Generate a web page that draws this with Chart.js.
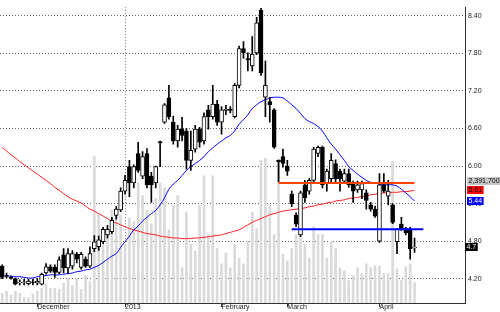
<!DOCTYPE html>
<html>
<head>
<meta charset="utf-8">
<title>Stock chart</title>
<script src="https://cdn.jsdelivr.net/npm/chart.js@4.4.1/dist/chart.umd.min.js"></script>
<style>
  html, body { margin: 0; padding: 0; background: #fff; }
  #wrap { width: 500px; height: 312px; }
</style>
</head>
<body>
<div id="wrap"><canvas id="stockChart" width="500" height="312"></canvas></div>
<script>
// Datos (una vela por sesión)
const tickIdx = [8, 28, 50, 65, 86];
const tickText = ['December', '2013', 'February', 'March', 'April'];
const priceTicks = [4.2, 4.8, 5.4, 6.0, 6.6, 7.2, 7.8, 8.4];

const open = [4.40, 4.25, 4.22, 4.20, 4.13, 4.14, 4.12, 4.15, 4.13, 4.11,
  4.29, 4.39, 4.38, 4.30, 4.58, 4.37, 4.40, 4.59, 4.38, 4.51,
  4.40, 4.68, 4.71, 4.79, 4.90, 4.95, 5.21, 5.30, 5.60, 5.99,
  5.73, 6.20, 5.84, 6.20, 5.84, 5.73, 6.39, 6.70, 7.09, 6.70,
  6.40, 6.59, 6.56, 6.09, 6.27, 6.59, 6.40, 6.90, 6.79, 6.99,
  6.70, 6.89, 6.91, 6.79, 7.29, 7.88, 7.72, 7.60, 7.81, 8.49,
  7.10, 7.03, 6.90, 6.09, 6.15, 6.00, 5.55, 5.21, 4.90, 5.70,
  5.60, 5.77, 6.20, 6.30, 5.73, 5.80, 6.04, 5.92, 5.76, 5.88,
  5.73, 5.62, 5.62, 5.57, 5.38, 5.31, 4.80, 5.70, 5.52, 5.38,
  4.79, 5.07, 5.00, 4.99, 4.69];
const high = [4.42, 4.29, 4.24, 4.21, 4.18, 4.19, 4.19, 4.19, 4.20, 4.29,
  4.44, 4.42, 4.42, 4.55, 4.68, 4.68, 4.65, 4.62, 4.62, 4.55,
  4.71, 4.89, 4.88, 5.02, 5.05, 5.18, 5.35, 5.65, 5.85, 6.09,
  6.02, 6.38, 6.23, 6.28, 5.90, 6.00, 6.40, 7.00, 7.29, 6.80,
  6.65, 6.78, 6.60, 6.56, 6.65, 6.62, 6.85, 6.97, 7.29, 7.05,
  6.95, 6.97, 6.95, 7.32, 7.92, 7.99, 7.81, 8.07, 8.38, 8.52,
  7.68, 7.10, 6.92, 6.10, 6.27, 6.09, 5.60, 5.25, 5.60, 5.77,
  5.80, 6.30, 6.32, 6.32, 5.95, 6.20, 6.10, 5.95, 5.95, 5.95,
  5.76, 5.76, 5.76, 5.62, 5.42, 5.36, 5.88, 5.88, 5.77, 5.40,
  5.00, 5.18, 5.02, 5.02, 4.85];
const low = [4.20, 4.21, 4.19, 4.10, 4.10, 4.10, 4.10, 4.10, 4.10, 4.10,
  4.27, 4.30, 4.22, 4.28, 4.29, 4.28, 4.35, 4.45, 4.35, 4.38,
  4.38, 4.63, 4.65, 4.76, 4.85, 4.92, 5.15, 5.27, 5.55, 5.51,
  5.65, 5.90, 5.80, 5.65, 5.42, 5.65, 5.99, 6.68, 6.75, 6.35,
  6.30, 6.40, 5.95, 5.93, 6.22, 6.30, 6.35, 6.59, 6.75, 6.65,
  6.51, 6.82, 6.85, 6.77, 7.25, 7.72, 7.52, 7.52, 7.78, 7.45,
  6.79, 6.70, 6.28, 5.75, 5.98, 5.85, 5.35, 5.03, 4.87, 5.42,
  5.55, 5.72, 6.15, 5.65, 5.60, 5.75, 5.75, 5.60, 5.73, 5.66,
  5.42, 5.58, 5.48, 5.31, 5.28, 5.18, 4.78, 5.58, 5.38, 5.08,
  4.60, 4.97, 4.90, 4.51, 4.62];
const close = [4.22, 4.24, 4.21, 4.11, 4.14, 4.15, 4.16, 4.14, 4.16, 4.27,
  4.39, 4.32, 4.30, 4.50, 4.37, 4.60, 4.60, 4.51, 4.59, 4.40,
  4.60, 4.79, 4.82, 4.99, 4.99, 5.13, 5.31, 5.60, 5.77, 5.73,
  5.99, 5.93, 6.15, 5.70, 5.70, 5.99, 6.37, 6.98, 6.79, 6.40,
  6.59, 6.49, 6.09, 6.25, 6.59, 6.38, 6.79, 6.79, 6.99, 6.70,
  6.90, 6.91, 6.89, 7.29, 7.88, 7.81, 7.70, 7.79, 8.29, 7.49,
  7.29, 6.98, 6.30, 6.07, 6.04, 5.92, 5.40, 5.07, 5.57, 5.49,
  5.77, 6.27, 6.30, 5.70, 5.92, 6.09, 5.80, 5.80, 5.88, 5.70,
  5.60, 5.70, 5.72, 5.45, 5.31, 5.20, 5.70, 5.60, 5.60, 5.10,
  4.99, 4.99, 4.93, 4.68, 4.70];
const volume = [1140000, 1368000, 912000, 1368000, 1140000, 684000, 570000, 1026000, 1368000, 1710000,
  2280000, 1710000, 1710000, 1596000, 2280000, 2850000, 2052000, 2850000, 1596000, 3192000,
  2508000, 17100000, 10260000, 6840000, 7980000, 10830000, 10260000, 10260000, 6840000, 9918000,
  9462000, 14022000, 12540000, 10830000, 9234000, 12198000, 14022000, 13452000, 8550000, 11400000,
  12540000, 4104000, 10602000, 6840000, 6042000, 11400000, 14820000, 7980000, 14820000, 6384000,
  4560000, 5814000, 4104000, 6840000, 5244000, 4560000, 7182000, 10602000, 8664000, 16644000,
  16872000, 11400000, 7980000, 16644000, 5700000, 4902000, 6384000, 7980000, 7638000, 6840000,
  5244000, 8892000, 7980000, 7980000, 5244000, 7182000, 6384000, 4104000, 3762000, 2622000,
  3192000, 4104000, 3420000, 4560000, 4104000, 4332000, 4332000, 3420000, 3420000, 16530000,
  3990000, 2622000, 4218000, 4560000, 2391700];
const maBlue = [4.24, 4.24, 4.24, 4.23, 4.23, 4.22, 4.21, 4.21, 4.23, 4.24,
  4.25, 4.26, 4.26, 4.26, 4.27, 4.28, 4.29, 4.31, 4.32, 4.34,
  4.35, 4.38, 4.41, 4.46, 4.51, 4.56, 4.60, 4.70, 4.79, 4.88,
  4.98, 5.04, 5.12, 5.18, 5.24, 5.29, 5.38, 5.49, 5.63, 5.71,
  5.77, 5.85, 5.93, 5.99, 6.04, 6.09, 6.15, 6.23, 6.29, 6.35,
  6.40, 6.45, 6.49, 6.56, 6.67, 6.74, 6.82, 6.92, 6.98, 7.03,
  7.06, 7.09, 7.10, 7.10, 7.09, 7.04, 6.98, 6.92, 6.84, 6.76,
  6.71, 6.68, 6.63, 6.56, 6.45, 6.35, 6.27, 6.18, 6.09, 5.99,
  5.93, 5.87, 5.82, 5.77, 5.74, 5.73, 5.71, 5.70, 5.70, 5.70,
  5.68, 5.63, 5.57, 5.51, 5.44];
const maRed = [6.30, 6.24, 6.18, 6.13, 6.07, 6.02, 5.97, 5.92, 5.87, 5.82,
  5.77, 5.72, 5.66, 5.61, 5.56, 5.51, 5.47, 5.44, 5.41, 5.36,
  5.31, 5.28, 5.24, 5.20, 5.16, 5.12, 5.09, 5.06, 5.03, 5.00,
  4.98, 4.96, 4.94, 4.92, 4.91, 4.90, 4.88, 4.87, 4.86, 4.85,
  4.85, 4.84, 4.84, 4.84, 4.85, 4.85, 4.86, 4.87, 4.88, 4.89,
  4.90, 4.92, 4.94, 4.96, 4.98, 5.02, 5.06, 5.10, 5.13, 5.16,
  5.19, 5.22, 5.24, 5.26, 5.28, 5.29, 5.30, 5.31, 5.32, 5.33,
  5.35, 5.36, 5.38, 5.39, 5.41, 5.42, 5.44, 5.45, 5.46, 5.48,
  5.49, 5.50, 5.51, 5.52, 5.54, 5.55, 5.56, 5.57, 5.57, 5.58,
  5.58, 5.59, 5.59, 5.60, 5.61];
// niveles horizontales: [desde, hasta, valor]
const orangeLevel = [63, 94, 5.73];
const blueLevel = [66, 96, 4.99];

const SLOTS = 106; // sesiones + hueco a la derecha

const labels = Array.from({ length: SLOTS }, (_, i) => {
  const k = tickIdx.indexOf(i);
  return k >= 0 ? tickText[k] : '';
});

function levelData(level) {
  const arr = new Array(SLOTS).fill(null);
  for (let i = level[0]; i <= level[1]; i++) arr[i] = level[2];
  return arr;
}

Chart.defaults.font.family = '"Liberation Sans", Arial, sans-serif';
Chart.defaults.font.size = 7;

const lastValueBoxes = {
  id: 'lastValueBoxes',
  afterDraw(chart) {
    const { ctx, chartArea, scales: { y } } = chart;
    const n = close.length - 1;
    ctx.save();
    ctx.font = '7px "Liberation Sans", Arial, sans-serif';
    ctx.textBaseline = 'middle';
    const box = (text, yc, bg, fg, x0) => {
      const w = ctx.measureText(text).width + 3;
      ctx.fillStyle = bg;
      ctx.fillRect(x0, Math.round(yc) - 4, w, 8);
      ctx.fillStyle = fg;
      ctx.fillText(text, x0 + 1.5, Math.round(yc) + 0.5);
    };
    const yRed = y.getPixelForValue(maRed[n]);
    box(volume[n].toLocaleString('en-US'), yRed - 9, '#c8c8c8', '#000', chartArea.right + 2);
    box(maRed[n].toFixed(2), yRed, '#ff0000', '#000', chartArea.right + 2);
    box(maBlue[n].toFixed(2), y.getPixelForValue(maBlue[n]), '#0000ff', '#fff', chartArea.right + 2);
    box(String(close[n]), y.getPixelForValue(close[n]), '#000', '#fff', chartArea.right);
    ctx.restore();
  }
};

const ctx = document.getElementById('stockChart');
new Chart(ctx, {
  type: 'bar',
  data: {
    labels: labels,
    datasets: [
      {
        label: 'Volume',
        data: volume,
        yAxisID: 'yVol',
        backgroundColor: '#dadada',
        barThickness: 2,
        grouped: false,
        order: 10
      },
      {
        type: 'line',
        label: 'MA red',
        data: maRed,
        borderColor: '#ff1a1a',
        borderWidth: 1,
        pointRadius: 0,
        tension: 0.3,
        order: 8
      },
      {
        type: 'line',
        label: 'MA blue',
        data: maBlue,
        borderColor: '#0000ff',
        borderWidth: 1,
        pointRadius: 0,
        tension: 0.3,
        order: 7
      },
      {
        label: 'Range',
        data: low.map((l, i) => [l, high[i]]),
        backgroundColor: '#000',
        barThickness: 1,
        grouped: false,
        order: 5
      },
      {
        label: 'Body',
        data: open.map((o, i) => [o, close[i]]),
        backgroundColor: open.map((o, i) => close[i] >= o ? '#fff' : '#000'),
        borderColor: '#000',
        borderWidth: 1,
        borderSkipped: false,
        barThickness: 4,
        grouped: false,
        order: 4
      },
      {
        type: 'line',
        label: 'Level orange',
        data: levelData(orangeLevel),
        borderColor: '#ff4400',
        borderWidth: 2,
        pointRadius: 0,
        order: 2
      },
      {
        type: 'line',
        label: 'Level blue',
        data: levelData(blueLevel),
        borderColor: '#0000ff',
        borderWidth: 2,
        pointRadius: 0,
        order: 2
      }
    ]
  },
  options: {
    responsive: false,
    animation: false,
    devicePixelRatio: 1,
    layout: { padding: 0 },
    plugins: {
      legend: { display: false },
      tooltip: { enabled: false }
    },
    scales: {
      x: {
        offset: true,
        grid: {
          offset: false,
          drawTicks: true,
          tickLength: 4,
          color: c => c.index === tickIdx[1] ? '#777' : 'rgba(0,0,0,0)',
          tickColor: c => tickIdx.includes(c.index) ? '#333' : 'rgba(0,0,0,0)'
        },
        border: { display: true, color: '#333', dash: [1, 2] },
        ticks: {
          autoSkip: false,
          maxRotation: 0,
          align: 'start',
          padding: -4,
          color: '#222'
        },
        afterFit: s => { s.height = 9; }
      },
      y: {
        position: 'right',
        min: 3.81,
        max: 8.54,
        afterBuildTicks: s => { s.ticks = priceTicks.map(v => ({ value: v })); },
        grid: { color: '#666', drawTicks: false },
        border: { display: true, color: '#333', dash: [1, 2] },
        ticks: {
          padding: 3,
          color: '#222',
          callback: v => v.toFixed(2)
        },
        afterFit: s => { s.width = 35; }
      },
      yVol: {
        display: false,
        min: 0,
        max: 34500000
      }
    }
  },
  plugins: [lastValueBoxes]
});
</script>
</body>
</html>
